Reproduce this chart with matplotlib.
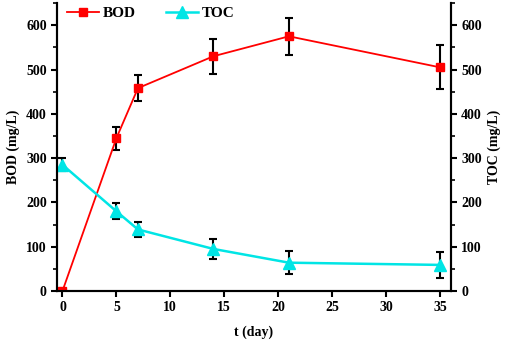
import matplotlib
matplotlib.use("Agg")
import matplotlib.pyplot as plt
from matplotlib.ticker import MultipleLocator
from matplotlib.lines import Line2D

days = [0, 5, 7, 14, 21, 35]
bod = [0, 345, 458, 530, 575, 505]
bod_err = [0, 26, 29, 39, 42, 50]
toc = [285, 180, 139, 95, 64, 59]
toc_err = [15, 18, 16, 22, 26, 30]

plt.rcParams['font.family'] = ['Liberation Serif', 'DejaVu Serif']
plt.rcParams['font.weight'] = 'bold'

RED = 'red'
CYAN = '#00e5e5'

fig = plt.figure(figsize=(5.05, 3.42), dpi=100)
ax = fig.add_axes([0.113, 0.149, 0.7795, 0.842])
ax2 = ax.twinx()

ax.errorbar(days, bod, yerr=bod_err, color=RED, lw=1.3, marker='s', ms=6,
            mfc=RED, mec=RED, ecolor='black', elinewidth=1.5, capsize=3,
            capthick=1.5, zorder=3)
ax.errorbar(days, toc, yerr=toc_err, color=CYAN, lw=1.8, marker='^', ms=8,
            mfc=CYAN, mec=CYAN, ecolor='black', elinewidth=1.5, capsize=3,
            capthick=1.5, zorder=3)

for a in (ax, ax2):
    a.set_ylim(0, 650)
    a.yaxis.set_major_locator(MultipleLocator(100))
    a.yaxis.set_minor_locator(MultipleLocator(50))
    a.spines['top'].set_visible(False)
    for s in a.spines.values():
        s.set_linewidth(1.5)
    a.tick_params(axis='y', which='major', direction='out', length=4, width=1.5, labelsize=10)
    a.tick_params(axis='y', which='minor', direction='out', length=3, width=1.2)

ax.set_xlim(-0.5, 36)
ax.xaxis.set_major_locator(MultipleLocator(5))
ax.tick_params(axis='x', which='major', direction='out', length=4, width=1.5, labelsize=10)

ax.set_xlabel('t (day)', fontsize=10, fontweight='bold', labelpad=8)
ax.set_ylabel('BOD (mg/L)', fontsize=10, fontweight='bold', labelpad=4)
ax2.set_ylabel('TOC (mg/L)', fontsize=10, fontweight='bold', rotation=90, labelpad=4)

handles = [Line2D([], [], color=RED, lw=1.3, marker='s', ms=6),
           Line2D([], [], color=CYAN, lw=1.8, marker='^', ms=8)]
ax.legend(handles, ['BOD', 'TOC'], loc='upper left', ncol=2, frameon=False,
          fontsize=11, bbox_to_anchor=(-0.01, 1.035), columnspacing=2.0,
          handlelength=2.1, handletextpad=0.25)

fig.savefig('out.png', dpi=100)
